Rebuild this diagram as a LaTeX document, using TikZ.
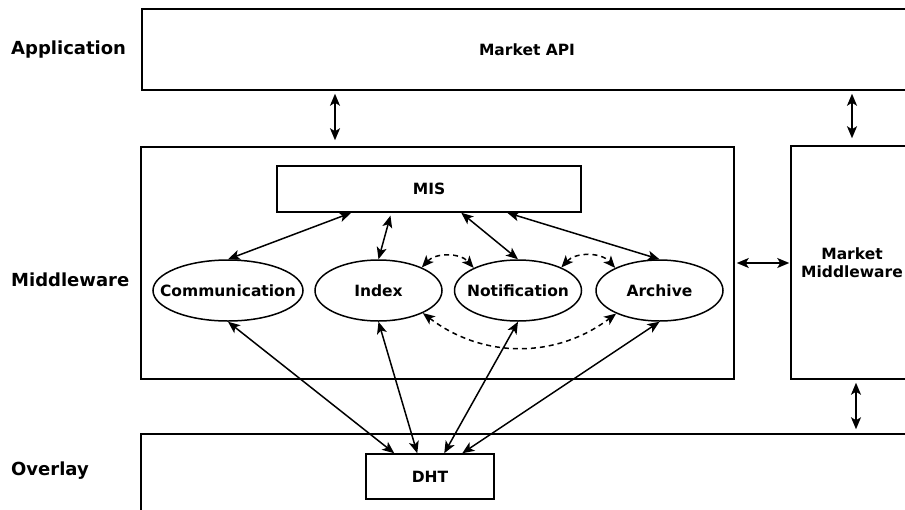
\documentclass[tikz,border=0pt]{standalone}
\usepackage{fontspec}
\setmainfont{DejaVu Sans}
\usetikzlibrary{arrows.meta,shapes.geometric}

\begin{document}
\begin{tikzpicture}[x=1pt, y=-1pt, font=\bfseries\fontsize{15.5}{18.5}\selectfont]
		\tikzstyle{box}=[draw, line width=1.5pt, inner sep=0pt]
		\tikzstyle{comp}=[draw, ellipse, line width=1.5pt, inner sep=0pt, minimum width=127pt, minimum height=61pt]
		\tikzstyle{link}=[line width=1.5pt, {Stealth[length=12pt,width=10pt,inset=3pt]}-{Stealth[length=12pt,width=10pt,inset=3pt]}]
		\tikzstyle{loose}=[link, dash pattern=on 5pt off 4pt]
		\tikzstyle{layer}=[anchor=base west, inner sep=0pt, font=\bfseries\fontsize{18}{21}\selectfont]

		\useasboundingbox (0,0) rectangle (905,509);
		\clip (0,0) rectangle (905,509);

		% layer names
		\node[layer] (lapp) at (11,54) {Application};
		\node[layer] (lmid) at (11,286) {Middleware};
		\node[layer] (lov) at (11,475) {Overlay};

		% boxes
		\node[box, minimum width=770pt, minimum height=81pt] (api) at (527,49.5) {Market API};
		\node[box, minimum width=593pt, minimum height=232pt] (mw) at (437.5,263) {};
		\node[box, minimum width=122pt, minimum height=233pt, align=center] (mm) at (852,262.5) {Market\\Middleware};
		\node[box, minimum width=772pt, minimum height=92pt] (ov) at (527,480) {};
		\node[box, minimum width=304pt, minimum height=46pt] (mis) at (429,189) {MIS};
		\node[box, minimum width=128pt, minimum height=45pt] (dht) at (430,476.5) {DHT};

		% components
		\node[comp, minimum width=150pt, inner xsep=-15pt] (comm) at (228,290.5) {Communication};
		\node[comp] (index) at (378.5,290.5) {Index};
		\node[comp, inner xsep=-7pt] (notif) at (518,290.5) {Notification};
		\node[comp] (arch) at (659.5,290.5) {Archive};

		% layer links
		\coordinate (c1) at (335,0);
		\coordinate (c2) at (856,0);
		\draw[link, shorten <=3pt, shorten >=6pt] (api.south -| c1) -- (mw.north -| c1);
		\draw[link, shorten <=3pt, shorten >=7pt] (api.south -| mm.north) -- (mm.north);
		\draw[link, shorten <=3pt, shorten >=4pt] (mm.south -| c2) -- (ov.north -| c2);
		\draw[link, shorten <=2pt, shorten >=1pt] (mw.east) -- (mm.west |- mw.east);

		% MIS links
		\draw[link] ([xshift=75pt]mis.south west) -- (comm.north);
		\draw[link, shorten <=3pt] ([xshift=115pt]mis.south west) -- (index.north);
		\draw[link] ([xshift=185pt]mis.south west) -- (notif.north);
		\draw[link] ([xshift=231pt]mis.south west) -- (arch.north);

		% dashed links
		\draw[loose] (index.28) to[bend left=48] (notif.153);
		\draw[loose] (notif.28) to[bend left=48] (arch.153);
		\draw[loose] (index.333) to[bend right=37] (arch.208);

		% DHT links
		\draw[link] (comm.south) -- ([xshift=29pt]dht.north west);
		\draw[link] (index.south) -- ([xshift=52pt]dht.north west);
		\draw[link] (notif.south) -- ([xshift=79pt]dht.north west);
		\draw[link] (arch.south) -- ([xshift=97pt]dht.north west);
	\end{tikzpicture}
\end{document}
